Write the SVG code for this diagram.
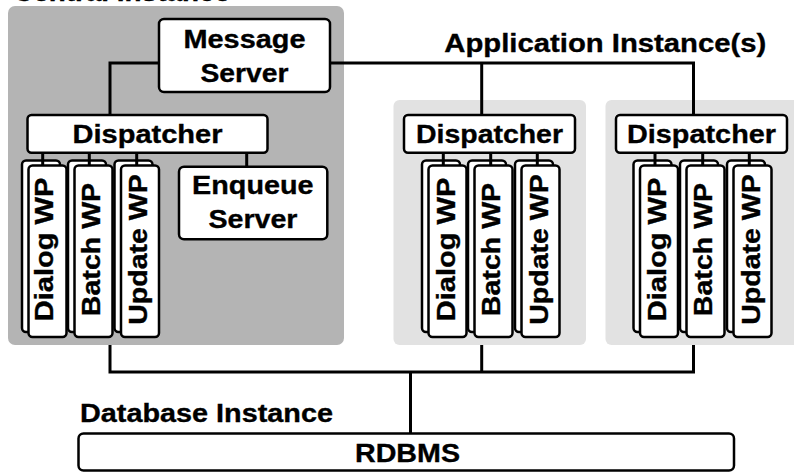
<svg xmlns="http://www.w3.org/2000/svg" width="794" height="472" viewBox="0 0 794 472">
  <style>
    .panel-central { fill: #b4b4b4; }
    .panel-app { fill: #e2e2e2; }
    .box { fill: #ffffff; stroke: #000000; stroke-width: 2.5; }
    .wire { fill: none; stroke: #000000; stroke-width: 3; stroke-linejoin: miter; }
    text { font-family: "Liberation Sans", Arial, sans-serif; font-weight: bold; font-size: 26px; fill: #000000; stroke: #000000; stroke-width: 0.35; }
    .mid { text-anchor: middle; }
  </style>
  <defs>
    <!-- one stacked work-process pair: back sheet plus front sheet -->
    <g id="wp-stack">
      <rect class="box" x="-6.5" y="-5" width="38" height="171.5" rx="4"/>
      <rect class="box" x="0" y="0" width="38" height="171.5" rx="4"/>
    </g>
  </defs>

  <!-- instance panels -->
  <g id="central-instance">
    <rect class="panel-central" x="8" y="6" width="336" height="339" rx="7"/>
    <text class="mid" x="121.5" y="0.8" textLength="217" lengthAdjust="spacingAndGlyphs">Central Instance</text>
  </g>
  <g id="app-instance-1">
    <rect class="panel-app" x="393.5" y="100" width="192.5" height="245" rx="6"/>
  </g>
  <g id="app-instance-2">
    <rect class="panel-app" x="605.5" y="100" width="200" height="245" rx="6"/>
  </g>
  <g id="app-instance-label">
    <text class="mid" x="605.3" y="51.7" textLength="322" lengthAdjust="spacingAndGlyphs">Application Instance(s)</text>
  </g>

  <!-- central instance nodes -->
  <g id="message-server">
    <rect class="box" x="159" y="19" width="171" height="73" rx="5"/>
    <text class="mid" x="244.5" y="47.5" textLength="122" lengthAdjust="spacingAndGlyphs">Message</text>
    <text class="mid" x="244.5" y="81.7" textLength="88" lengthAdjust="spacingAndGlyphs">Server</text>
  </g>
  <g id="dispatcher-central">
    <rect class="box" x="27.5" y="115" width="240" height="37.7" rx="4"/>
    <text class="mid" x="147.5" y="142.5" textLength="150" lengthAdjust="spacingAndGlyphs">Dispatcher</text>
  </g>
  <g id="enqueue-server">
    <rect class="box" x="179" y="166.7" width="148.3" height="72.6" rx="5"/>
    <text class="mid" x="252.8" y="194" textLength="121.5" lengthAdjust="spacingAndGlyphs">Enqueue</text>
    <text class="mid" x="253" y="227.7" textLength="89" lengthAdjust="spacingAndGlyphs">Server</text>
  </g>
  <g id="central-dialog-wp">
    <use href="#wp-stack" x="28.5" y="165.5"/>
    <text class="mid" transform="translate(53.3 249.5) rotate(-90)" textLength="143.7" lengthAdjust="spacingAndGlyphs">Dialog WP</text>
  </g>
  <g id="central-batch-wp">
    <use href="#wp-stack" x="74.5" y="165.5"/>
    <text class="mid" transform="translate(99.5 249.5) rotate(-90)" textLength="133.3" lengthAdjust="spacingAndGlyphs">Batch WP</text>
  </g>
  <g id="central-update-wp">
    <use href="#wp-stack" x="121" y="165.5"/>
    <text class="mid" transform="translate(146.5 249.5) rotate(-90)" textLength="150.7" lengthAdjust="spacingAndGlyphs">Update WP</text>
  </g>

  <!-- application instance 1 nodes -->
  <g id="dispatcher-app1">
    <rect class="box" x="404" y="115" width="171" height="37.7" rx="4"/>
    <text class="mid" x="489.5" y="143" textLength="147" lengthAdjust="spacingAndGlyphs">Dispatcher</text>
  </g>
  <g id="app1-dialog-wp">
    <use href="#wp-stack" x="428.5" y="165.5"/>
    <text class="mid" transform="translate(454.5 249.5) rotate(-90)" textLength="143.7" lengthAdjust="spacingAndGlyphs">Dialog WP</text>
  </g>
  <g id="app1-batch-wp">
    <use href="#wp-stack" x="474.5" y="165.5"/>
    <text class="mid" transform="translate(500.2 249.5) rotate(-90)" textLength="133.3" lengthAdjust="spacingAndGlyphs">Batch WP</text>
  </g>
  <g id="app1-update-wp">
    <use href="#wp-stack" x="521.5" y="165.5"/>
    <text class="mid" transform="translate(547.5 249.5) rotate(-90)" textLength="150.7" lengthAdjust="spacingAndGlyphs">Update WP</text>
  </g>

  <!-- application instance 2 nodes -->
  <g id="dispatcher-app2">
    <rect class="box" x="616" y="115" width="171" height="37.7" rx="4"/>
    <text class="mid" x="701.5" y="143" textLength="149" lengthAdjust="spacingAndGlyphs">Dispatcher</text>
  </g>
  <g id="app2-dialog-wp">
    <use href="#wp-stack" x="640" y="165.5"/>
    <text class="mid" transform="translate(665.8 249.5) rotate(-90)" textLength="143.7" lengthAdjust="spacingAndGlyphs">Dialog WP</text>
  </g>
  <g id="app2-batch-wp">
    <use href="#wp-stack" x="686.5" y="165.5"/>
    <text class="mid" transform="translate(712.2 249.5) rotate(-90)" textLength="133.3" lengthAdjust="spacingAndGlyphs">Batch WP</text>
  </g>
  <g id="app2-update-wp">
    <use href="#wp-stack" x="733.5" y="165.5"/>
    <text class="mid" transform="translate(759.7 249.5) rotate(-90)" textLength="150.7" lengthAdjust="spacingAndGlyphs">Update WP</text>
  </g>

  <!-- database instance -->
  <g id="database-instance">
    <text x="80" y="422.3" textLength="253" lengthAdjust="spacingAndGlyphs">Database Instance</text>
  </g>
  <g id="rdbms">
    <rect class="box" x="78.5" y="433.5" width="655.5" height="37" rx="5"/>
    <text class="mid" x="407.5" y="461.7" textLength="105" lengthAdjust="spacingAndGlyphs">RDBMS</text>
  </g>

  <!-- connectors -->
  <g id="connectors">
    <!-- message server to dispatchers -->
    <path class="wire" d="M159 63 H110 V115"/>
    <path class="wire" d="M330 63 H693.5 V115"/>
    <path class="wire" d="M481.7 63 V115"/>
    <!-- dispatchers to work processes -->
    <path class="wire" d="M42.7 152.7 V165.5 M89.3 152.7 V165.5 M136.7 152.7 V165.5 M246.7 152.7 V166.7"/>
    <path class="wire" d="M443.3 152.7 V165.5 M490.7 152.7 V165.5 M537.3 152.7 V165.5"/>
    <path class="wire" d="M655 152.7 V165.5 M702.7 152.7 V165.5 M749.3 152.7 V165.5"/>
    <!-- instances to database bus -->
    <path class="wire" d="M110 345 V372 H693.5 V345"/>
    <path class="wire" d="M481.7 345 V372"/>
    <path class="wire" d="M410.5 372 V433.5"/>
  </g>
</svg>
